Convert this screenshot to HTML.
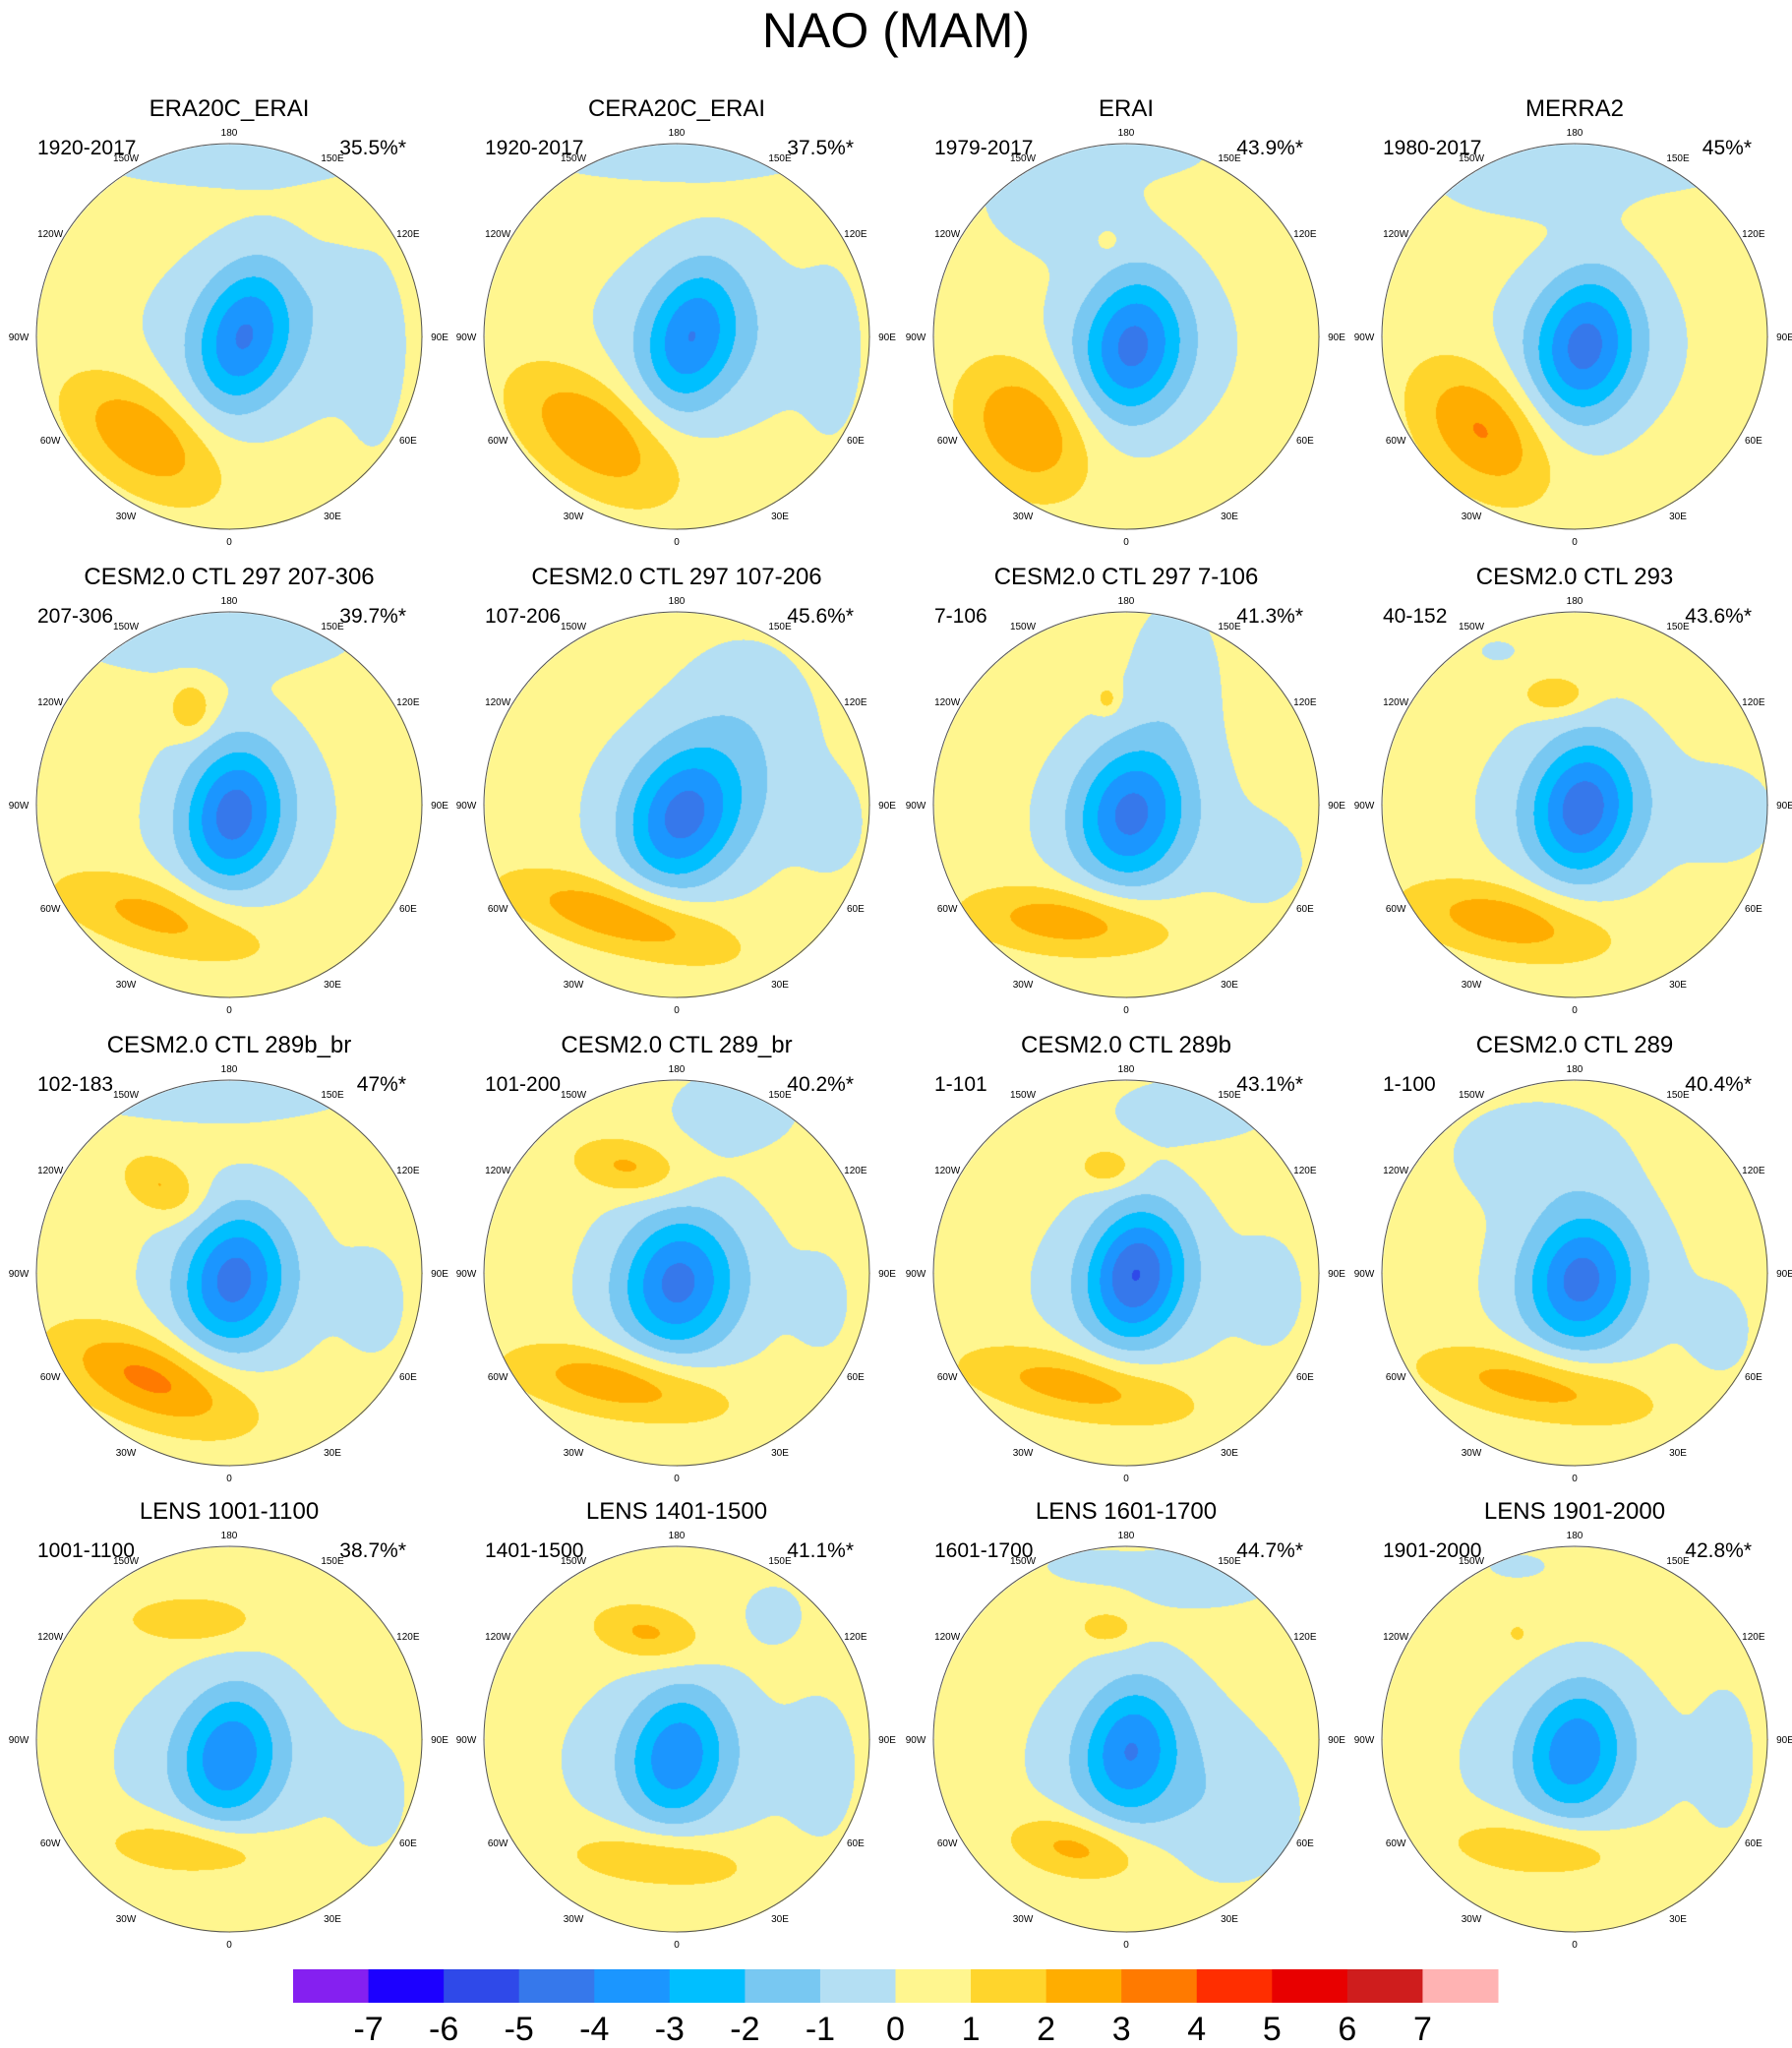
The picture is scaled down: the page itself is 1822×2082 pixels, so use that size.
<!DOCTYPE html>
<html><head><meta charset="utf-8"><style>
body{margin:0;background:#fff;width:1822px;height:2082px;position:relative;overflow:hidden;font-family:"Liberation Sans",sans-serif}
#main-title{position:absolute;left:0;width:1822px;top:2px;text-align:center;font-size:50px;color:#000}
canvas{position:absolute}
svg{position:absolute;left:0;top:0}
</style></head><body>
<div id="main-title">NAO (MAM)</div>
<div id="maps"></div>
<svg id="ov" width="1822" height="2082"></svg>
<script>
// panel metadata
const titles=["ERA20C_ERAI","CERA20C_ERAI","ERAI","MERRA2","CESM2.0 CTL 297 207-306","CESM2.0 CTL 297 107-206","CESM2.0 CTL 297 7-106","CESM2.0 CTL 293","CESM2.0 CTL 289b_br","CESM2.0 CTL 289_br","CESM2.0 CTL 289b","CESM2.0 CTL 289","LENS 1001-1100","LENS 1401-1500","LENS 1601-1700","LENS 1901-2000"];
const periods=["1920-2017","1920-2017","1979-2017","1980-2017","207-306","107-206","7-106","40-152","102-183","101-200","1-101","1-100","1001-1100","1401-1500","1601-1700","1901-2000"];
const pcts=["35.5%*","37.5%*","43.9%*","45%*","39.7%*","45.6%*","41.3%*","43.6%*","47%*","40.2%*","43.1%*","40.4%*","38.7%*","41.1%*","44.7%*","42.8%*"];
// anomaly blobs per panel: [dx, dy, sx, sy, rotDeg, amp] in units of radius
const lowCore=[[0.07,0.0,0.16,0.27,15,-3.2],[0.07,0.0,0.16,0.27,15,-3.1],[0.03,0.05,0.18,0.27,10,-3.5],[0.05,0.05,0.18,0.27,10,-3.6],
[0.02,0.05,0.17,0.26,10,-3.6],[0.02,0.08,0.19,0.26,20,-3.5],[0.02,0.05,0.19,0.26,10,-3.5],[0.04,0.02,0.18,0.26,10,-3.7],
[0.02,0.03,0.18,0.26,10,-3.6],[0.0,0.05,0.2,0.26,10,-3.5],[0.05,0.0,0.17,0.25,10,-4.2],[0.03,0.03,0.19,0.25,10,-3.6],
[0.0,0.08,0.17,0.25,10,-3.1],[0.0,0.08,0.17,0.25,10,-3.0],[0.02,0.05,0.17,0.25,10,-3.2],[0.0,0.05,0.17,0.25,10,-3.0]];
const lowBroad=[[0.15,0.0,0.38,0.3,0,-1.3],[0.15,0.0,0.38,0.3,0,-1.3],[0.05,0.05,0.32,0.28,0,-1.2],[0.05,0.05,0.32,0.28,0,-1.2],
[0.05,0.05,0.3,0.3,0,-1.3],[0.1,0.0,0.34,0.28,0,-1.3],[0.05,0.05,0.32,0.28,0,-1.2],[0.05,0.0,0.34,0.28,0,-1.3],
[0.05,0.05,0.32,0.28,0,-1.2],[0.05,0.05,0.34,0.28,0,-1.2],[0.05,0.05,0.34,0.28,0,-1.2],[0.05,0.05,0.32,0.28,0,-1.2],
[0.0,0.1,0.38,0.28,0,-1.2],[0.0,0.1,0.38,0.28,0,-1.2],[0.05,0.1,0.36,0.3,0,-1.2],[0.0,0.1,0.38,0.28,0,-1.2]];
const atlHigh=[[-0.45,0.52,0.3,0.17,35,2.6],[-0.43,0.5,0.32,0.18,35,2.7],[-0.52,0.47,0.26,0.2,50,2.7],[-0.48,0.48,0.28,0.19,45,2.8],
[-0.35,0.58,0.38,0.13,15,2.1],[-0.3,0.58,0.4,0.12,15,2.6],[-0.3,0.6,0.36,0.12,5,2.4],[-0.35,0.6,0.36,0.13,10,2.4],
[-0.4,0.55,0.35,0.15,20,3.0],[-0.3,0.57,0.38,0.12,10,2.5],[-0.25,0.58,0.4,0.12,10,2.3],[-0.2,0.58,0.4,0.12,10,2.3],
[-0.2,0.56,0.3,0.1,5,1.8],[-0.1,0.62,0.32,0.1,5,1.8],[-0.25,0.56,0.24,0.11,10,2.2],[-0.2,0.56,0.3,0.1,5,1.9]];
const pacHigh=[[0,-0.5,0.1,0.1,0,0],[0,-0.5,0.1,0.1,0,0],[-0.1,-0.5,0.03,0.03,0,1.3],[0,-0.5,0.1,0.1,0,0],
[-0.2,-0.5,0.08,0.1,0,1.7],[0,-0.5,0.1,0.1,0,0],[-0.1,-0.55,0.04,0.05,0,1.4],[-0.1,-0.57,0.12,0.07,0,1.7],
[-0.35,-0.45,0.15,0.1,30,1.8],[-0.25,-0.55,0.2,0.1,10,1.9],[-0.1,-0.55,0.1,0.07,0,1.6],[0,-0.5,0.1,0.1,0,0],
[-0.2,-0.62,0.22,0.08,0,1.7],[-0.15,-0.55,0.2,0.1,10,1.9],[-0.1,-0.58,0.1,0.06,0,1.5],[-0.3,-0.55,0.03,0.03,0,1.3]];
const extraNeg=[[[0,-0.95,0.55,0.12,0,-0.9],[0.75,0.1,0.1,0.35,0,-0.7],[0.55,-0.25,0.08,0.12,0,-0.6]],
[[0,-0.95,0.55,0.1,0,-0.9],[0.8,0.1,0.1,0.3,0,-0.7]],
[[-0.35,-0.72,0.28,0.2,0,-0.9],[0.1,-0.95,0.25,0.08,0,-0.7]],
[[-0.2,-0.82,0.38,0.14,0,-0.9],[0.5,-0.88,0.25,0.08,0,-0.7]],
[[-0.1,-0.88,0.55,0.15,0,-0.9]],
[[0.35,-0.45,0.26,0.3,0,-0.85],[0.8,0.1,0.12,0.18,0,-0.7]],
[[0.25,-0.65,0.17,0.3,0,-0.85],[0.7,0.3,0.17,0.17,0,-0.7]],
[[0.8,0.05,0.17,0.17,0,-0.8],[-0.4,-0.8,0.07,0.04,0,-0.7]],
[[-0.1,-0.95,0.55,0.12,0,-0.9],[0.75,0.15,0.12,0.2,0,-0.7]],
[[0.3,-0.85,0.25,0.16,0,-0.8],[0.75,0.15,0.1,0.17,0,-0.7]],
[[0.35,-0.85,0.3,0.12,0,-0.85],[0.75,0.1,0.12,0.2,0,-0.7]],
[[-0.2,-0.62,0.32,0.2,0,-0.85],[0.75,0.3,0.12,0.17,0,-0.7]],
[[0.75,0.3,0.12,0.2,0,-0.7]],
[[0.75,0.15,0.12,0.25,0,-0.8],[0.5,-0.65,0.12,0.12,0,-0.7]],
[[0.4,-0.85,0.3,0.12,0,-0.85],[0.55,0.4,0.25,0.25,0,-0.8],[-0.2,-0.9,0.17,0.06,0,-0.7]],
[[0.78,0.1,0.1,0.25,0,-0.8],[-0.3,-0.9,0.12,0.05,0,-0.7]]];
// colorbar data
const cbColors=["#8520f0","#1c00ff","#2f49e9","#3678eb","#1b96ff","#00bfff","#78c8f2","#b4dff3","#fff68f","#ffd52c","#ffad00","#ff7a00","#ff2e00","#e80000","#cf1d1d","#ffb3b3"];
const cbLabels=["-7","-6","-5","-4","-3","-2","-1","0","1","2","3","4","5","6","7"];
const lonLabels=["180","150E","120E","90E","60E","30E","0","30W","60W","90W","120W","150W"];

const colX=[233,688,1145,1601], rowY=[342,818,1294,1768], R=196;
const ov=document.getElementById('ov'), NS='http://www.w3.org/2000/svg';
function rgb(h){return [parseInt(h.slice(1,3),16),parseInt(h.slice(3,5),16),parseInt(h.slice(5,7),16)];}
const pal=cbColors.map(rgb);
function colorFor(v){let i=Math.floor(v)+8; if(i<0)i=0; if(i>15)i=15; return pal[i];}
function txt(x,y,s,size,anchor,name){const t=document.createElementNS(NS,'text');t.setAttribute('x',x);t.setAttribute('y',y);t.setAttribute('font-size',size);t.setAttribute('text-anchor',anchor);t.setAttribute('font-family','Liberation Sans, sans-serif');t.textContent=s;


ov.appendChild(t);return t;}
function blobVal(b,x,y){const c=Math.cos(b[4]*Math.PI/180),s=Math.sin(b[4]*Math.PI/180);const dx=x-b[0],dy=y-b[1];const u=(dx*c+dy*s)/b[2],v=(-dx*s+dy*c)/b[3];return b[5]*Math.exp(-0.5*(u*u+v*v));}
for(let p=0;p<16;p++){
 const cx=colX[p%4], cy=rowY[Math.floor(p/4)];
 const blobs=[lowCore[p],lowBroad[p],atlHigh[p],pacHigh[p]].concat(extraNeg[p]);
 const cv=document.createElement('canvas');const S=2*R+2;cv.width=S;cv.height=S;cv.style.left=(cx-R-1)+'px';cv.style.top=(cy-R-1)+'px';
 
 
 document.getElementById('maps').appendChild(cv);
 const ctx=cv.getContext('2d');const img=ctx.createImageData(S,S);
 for(let j=0;j<S;j++)for(let i=0;i<S;i++){const x=(i-R-1)/R,y=(j-R-1)/R;if(x*x+y*y>1)continue;let v=0.35;for(const b of blobs)v+=blobVal(b,x,y);const c=colorFor(v);const k=(j*S+i)*4;img.data[k]=c[0];img.data[k+1]=c[1];img.data[k+2]=c[2];img.data[k+3]=255;}
 ctx.putImageData(img,0,0);
 const ci=document.createElementNS(NS,'circle');ci.setAttribute('cx',cx);ci.setAttribute('cy',cy);ci.setAttribute('r',R);ci.setAttribute('fill','none');ci.setAttribute('stroke','#555');ci.setAttribute('stroke-width','1');
 
 
 ov.appendChild(ci);
 txt(cx,cy-224,titles[p],24,'middle','panel-title');
 txt(cx-195,cy-185,periods[p],21,'start','period-label');
 txt(cx+180,cy-185,pcts[p],21,'end','percent-label');
 for(let k=0;k<12;k++){const a=k*30*Math.PI/180;
  let r2=(k==0||k==6)?R+12:(k==3||k==9?R+18:R+14);const lx=cx+r2*Math.sin(a),ly=cy-r2*Math.cos(a)+4;
  txt(lx,ly,lonLabels[k],10,'middle','longitude-label');}
}
// colorbar
const x0=298,x1=1523,bw=(x1-x0)/16;
cbColors.forEach((c,i)=>{const r=document.createElementNS(NS,'rect');r.setAttribute('x',x0+i*bw);r.setAttribute('y',2002);r.setAttribute('width',bw+0.5);r.setAttribute('height',34);r.setAttribute('fill',c);


ov.appendChild(r);});
cbLabels.forEach((l,i)=>{txt(x0+(i+1)*bw,2074,l,34,'middle','colorbar-label');});
</script>
</body></html>
